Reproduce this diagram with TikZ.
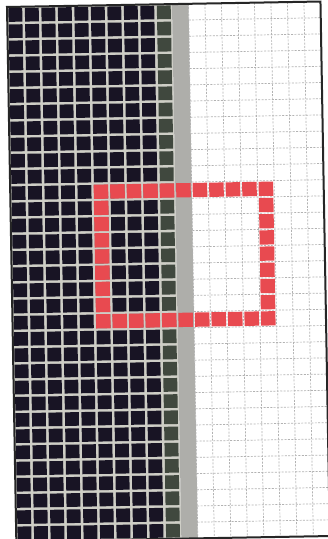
\documentclass[tikz,border=0pt]{standalone}
\usepackage{xcolor}

\definecolor{inkdark}{RGB}{24,20,36}
\definecolor{inkmid}{RGB}{64,72,62}
\definecolor{inkgray}{RGB}{174,174,170}
\definecolor{gapline}{RGB}{206,206,198}
\definecolor{marker}{RGB}{232,74,80}

\begin{document}
\begin{tikzpicture}[
        x=0.5pt, y=0.5pt,
        darkcell/.style={fill=inkdark},
        midcell/.style={fill=inkmid},
        graycell/.style={fill=inkgray},
        redcell/.style={fill=marker},
        gridline/.style={draw=gray!60, line width=0.35pt, dash pattern=on 1pt off 0.7pt},
        frame/.style={draw=black!85, line width=1pt}
      ]
        \useasboundingbox (0,0) rectangle (327,539);
        \fill[white] (0,0) rectangle (327,539);

        % The sheet is scanned a little askew
        \begin{scope}[shift={(7,532)}, rotate=1, x=8.25pt, y=-8.1pt]
          % Light lines between the dark pixels
          \fill[gapline] (0,0) rectangle (10,33);
          % Dark side (9 columns)
          \foreach \i in {0,...,8}
            \foreach \j in {0,...,32}
              \fill[darkcell] (\i+0.08,\j+0.08) rectangle (\i+0.92,\j+0.92);
          % Edge: one mid column, one gray column
          \foreach \j in {0,...,32}
            \fill[midcell] (9.08,\j+0.08) rectangle (9.92,\j+0.92);
          \fill[graycell] (10,0) rectangle (11,33);
          % Grid on the white side
          \foreach \i in {11,...,18}
            \draw[gridline] (\i,0) -- (\i,33);
          \foreach \j in {1,...,32}
            \draw[gridline] (11,\j) -- (19,\j);

          % Red window, 11 x 9 pixels
          \foreach \i in {5,...,15} {
            \fill[redcell] (\i+0.06,11.06) rectangle (\i+0.94,11.94);
            \fill[redcell] (\i+0.06,19.06) rectangle (\i+0.94,19.94);
          }
          \foreach \j in {12,...,18} {
            \fill[redcell] (5.06,\j+0.06) rectangle (5.94,\j+0.94);
            \fill[redcell] (15.06,\j+0.06) rectangle (15.94,\j+0.94);
          }

          % Outer frame
          \draw[frame] (0,0) rectangle (19,33);
        \end{scope}
      \end{tikzpicture}
\end{document}
